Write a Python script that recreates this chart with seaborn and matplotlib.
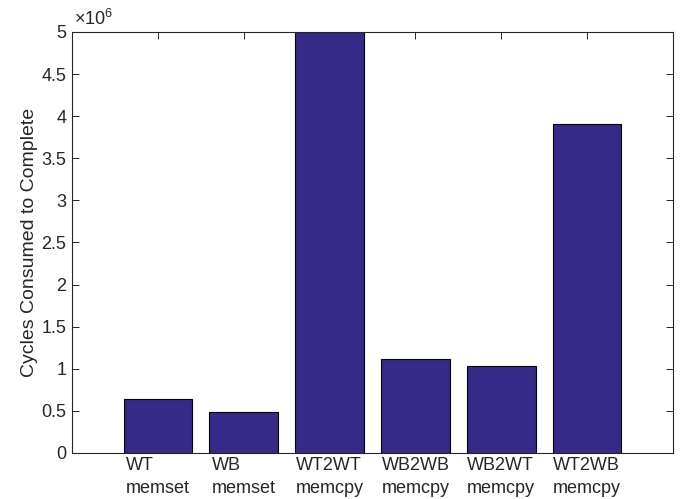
import seaborn as sns
import matplotlib.pyplot as plt
import pandas as pd
from matplotlib.ticker import FuncFormatter

# data
labels = ["WT\nmemset", "WB\nmemset", "WT2WT\nmemcpy", "WB2WB\nmemcpy", "WB2WT\nmemcpy", "WT2WB\nmemcpy"]
cycles = [0.641e6, 0.49e6, 5.0e6, 1.116e6, 1.033e6, 3.907e6]
y_ticks = [0, 0.5e6, 1e6, 1.5e6, 2e6, 2.5e6, 3e6, 3.5e6, 4e6, 4.5e6, 5e6]

df = pd.DataFrame({"op": labels, "cycles": cycles})

sns.set_style("white")
plt.rcParams["font.family"] = ["Liberation Sans", "DejaVu Sans"]
plt.rcParams["mathtext.fontset"] = "custom"
plt.rcParams["mathtext.rm"] = "Liberation Sans"
grey = "#262626"

fig = plt.figure(figsize=(6.82, 4.99), dpi=100)
ax = fig.add_axes([0.1056, 0.0922, 0.8812, 0.8437])
sns.barplot(data=df, x="op", y="cycles", color="#352a87", saturation=1,
            width=0.8, edgecolor="black", linewidth=0.8, ax=ax)

ax.set_xlim(-1, 6)
ax.set_ylim(0, 5e6)
ax.set_yticks(y_ticks)
ax.yaxis.set_major_formatter(FuncFormatter(lambda v, _: f"{v/1e6:g}"))
ax.set_xlabel("")
ax.set_ylabel("Cycles Consumed to Complete", fontsize=14, color=grey)
ax.yaxis.set_label_coords(-0.056, 0.5)

for lab in ax.get_xticklabels():
    lab.set_multialignment("left")
    lab.set_linespacing(1.45)

ax.tick_params(axis="both", direction="in", length=5, width=0.7, color=grey,
               labelsize=13, labelcolor=grey, top=True, right=True,
               bottom=True, left=True)
ax.tick_params(axis="x", pad=3)
ax.tick_params(axis="y", pad=4)

for s in ax.spines.values():
    s.set_color(grey)
    s.set_linewidth(0.8)

ax.text(0.003, 1.006, r"$\mathregular{\times10^{6}}$", transform=ax.transAxes,
        fontsize=13, color=grey, ha="left", va="bottom")

fig.savefig("out.png", dpi=100)
